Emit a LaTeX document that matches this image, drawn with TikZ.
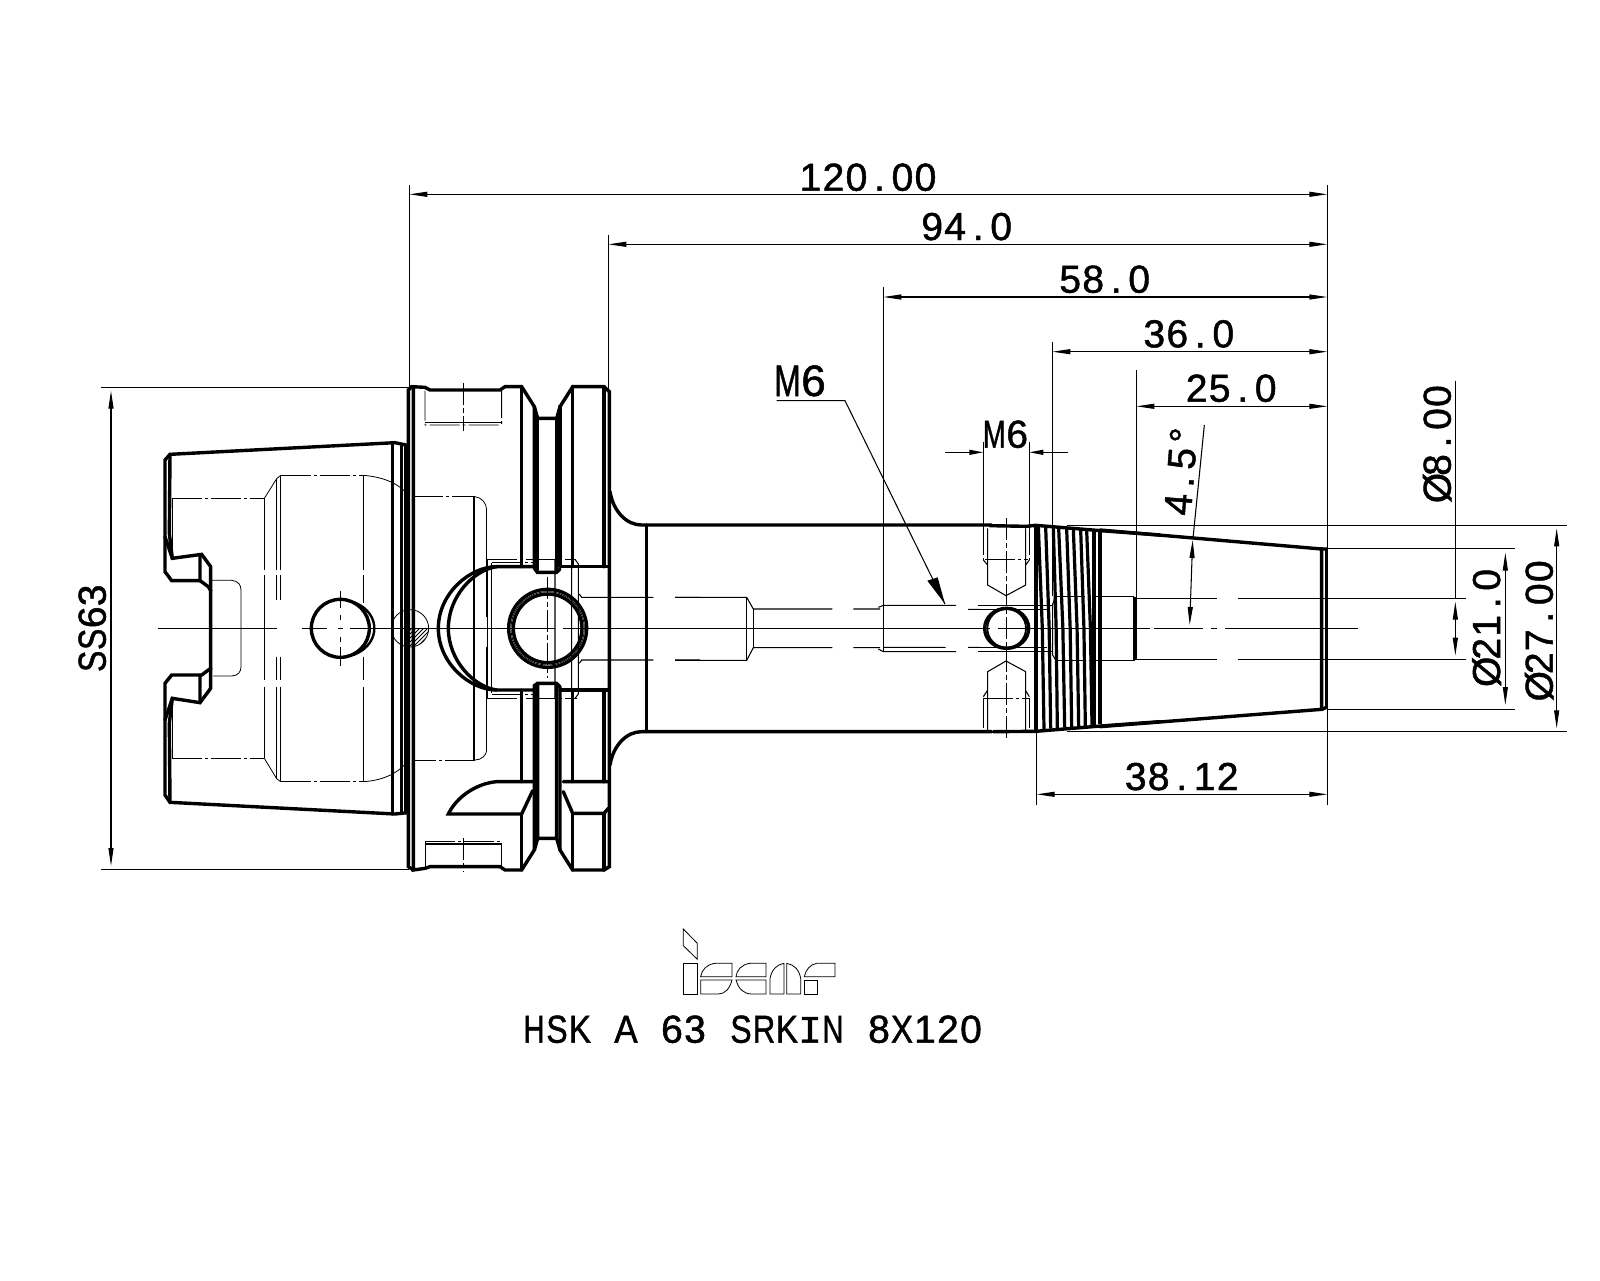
\documentclass[tikz,border=0pt]{standalone}
\usepackage{fontspec}
\setmainfont{Liberation Sans}[FakeBold=1.2]
\newfontfamily\lmn{Liberation Mono}[FakeBold=1.2]
\usetikzlibrary{arrows.meta}
\makeatletter
\newcommand\cells[2][23pt]{\@tfor\mycell:=#2\do{\makebox[#1][c]{\mycell}}}
\makeatother
\newcommand\sx[2]{\scalebox{#1}[1]{#2}}
\tikzset{
  thk/.style={line width=3.4pt,line join=miter,line cap=round},
  thn/.style={line width=1.05pt},
  fin/.style={line width=0.8pt},
  hid/.style={line width=0.9pt,dash pattern=on 30pt off 3pt on 3pt off 3pt},
  ctr/.style={line width=0.9pt,dash pattern=on 22pt off 3pt on 5pt off 3pt},
  dim/.style={line width=1.05pt,{Triangle[length=18pt,width=5pt]}-{Triangle[length=18pt,width=5pt]}},
  lab/.style={font=\fontsize{39pt}{39pt}\selectfont,inner sep=0pt,anchor=base},
  zsc/.style={x=.33333pt,y=-.33333pt}
}
\begin{document}
\begin{tikzpicture}[x=1pt,y=-1pt]
\useasboundingbox (0,0) rectangle (1600,1280);
\fill[white] (0,0) rectangle (1600,1280);

%% ---------- left cone (zoom 1 coordinates)
\begin{scope}[shift={(140,370)},zsc]
 \draw[thk] (803,226)--(765,218)--(90,253)--(75,270)--(75,605)--(95,632)--(180,632)--(205,650)--(212,662)--(212,895)--(185,915)--(95,915)--(75,940)--(75,1275)--(90,1297)--(765,1332)--(803,1328);
 \draw[thk] (90,253)--(88,490)--(97,565)--(185,553)--(212,590)--(212,662);
 \draw[thk] (90,1297)--(88,1060)--(97,985)--(180,998)--(212,955)--(212,895);
 \draw[thk] (180,555)--(180,632) (180,915)--(180,998) (75,500)--(97,565) (75,1050)--(97,985);
 \draw[thk] (757,218)--(757,1332) (785,228)--(785,1328) (797,228)--(797,1328);
 % hidden bore
 \draw[hid] (97,385)--(373,385) (97,1165)--(373,1165);
 \draw[thn] (97,385)--(97,565) (97,985)--(97,1165);
 \draw[fin] (373,385)--(410,326)--(422,316) (373,1165)--(410,1226)--(422,1235);
 \draw[hid] (422,316)--(670,316) (422,1235)--(670,1235);
 \draw[fin] (670,316) .. controls (720,320) and (770,335) .. (802,372);
 \draw[fin] (670,1235) .. controls (720,1232) and (770,1215) .. (802,1175);
 \draw[thn] (373,385)--(373,600) (373,950)--(373,1165) (410,326)--(410,600) (410,950)--(410,1226) (422,316)--(422,600) (422,950)--(422,1235) (670,316)--(670,600) (670,950)--(670,1235);
 \draw[thn] (373,615)--(373,930) (410,615)--(410,690) (410,860)--(410,930) (422,615)--(422,690) (422,860)--(422,930) (670,615)--(670,700) (670,860)--(670,930);
 \draw[fin] (215,631)--(275,631) .. controls (295,633) and (303,645) .. (303,660)--(303,890) .. controls (303,905) and (295,917) .. (275,918)--(220,918);
 % cross-hole
 \draw[line width=3.4pt] (601,775) circle[radius=87];
 \draw[line width=2.4pt] (640,696) .. controls (690,715) and (703,750) .. (703,775) .. controls (703,800) and (690,835) .. (640,855);
 \draw[thn] (55,775)--(412,775) (487,775)--(560,775) (595,775)--(610,775) (630,775)--(808,775);
 \draw[thn] (602,663)--(602,715) (602,735)--(602,750) (602,800)--(602,815) (602,830)--(602,888);
 % hatched pin
 \begin{scope}
  \clip (810,775) circle[radius=55];
  \clip (755,720) rectangle (810,775) (810,775) rectangle (870,835);
  \foreach \k in {0,12,...,240} \draw[fin] (750+\k,840)--(750+\k+120,720);
 \end{scope}
 \draw[fin] (810,775) circle[radius=56];
\end{scope}

%% ---------- flange (zoom 2 coordinates)
\begin{scope}[shift={(400,370)},zsc]
 \draw[thk] (40,1500)--(25,1490)--(25,60)--(35,50)--(75,52)--(90,60)--(300,60)--(315,50)--(365,50)--(403,110)--(403,595);
 \draw[thk] (40,50)--(40,1500)--(75,1495)--(90,1490)--(300,1490)--(315,1500)--(365,1500)--(403,1440)--(403,945);
 \draw[thk] (365,50)--(365,590) (365,960)--(365,1235) (365,1332)--(365,1500);
 \draw[thk] (403,110)--(413,145)--(470,145)--(480,110)--(518,50)--(612,50)--(628,65)--(628,1490)--(612,1500)--(518,1500)--(480,1440)--(480,950);
 \draw[thk] (413,145)--(413,600) (470,145)--(470,600) (480,110)--(480,590);
 \draw[thk] (518,50)--(518,590) (612,50)--(612,590) (518,960)--(518,1235) (612,960)--(612,1235) (518,1330)--(518,1500) (612,1330)--(612,1500);
 \draw[thk] (403,595)--(412,607)--(470,607)--(480,597);
 \draw[thk] (403,950)--(412,940)--(470,940)--(480,950);
 \draw[thk] (413,945)--(413,1405)--(470,1405)--(470,945) (403,1440)--(413,1405) (480,1440)--(470,1405);
 % slot
 \draw[thk] (400,590)--(290,590) .. controls (210,590) and (115,670) .. (115,775) .. controls (115,880) and (210,960) .. (290,960)--(400,960);
 \draw[thk] (290,590) .. controls (220,600) and (145,680) .. (145,775) .. controls (145,870) and (220,950) .. (290,960);
 \draw[thk] (480,590)--(625,590) (480,960)--(625,960);
 \draw[thk] (400,1235)--(290,1235) .. controls (230,1240) and (170,1280) .. (145,1332)--(365,1332)--(398,1262);
 \draw[thk] (490,1235)--(625,1235) (490,1265)--(518,1330)--(612,1330)--(625,1315);
 % screw
 \draw[line width=3.4pt] (443,775) circle[radius=117];
 \draw[line width=3.4pt] (443,775) circle[radius=103];
 \draw[fin] (443,775) circle[radius=110];
 % fillet and shank
 \draw[thk] (630,365) .. controls (640,425) and (680,465) .. (725,465)--(1775,465);
 \draw[thk] (630,1185) .. controls (640,1125) and (680,1085) .. (725,1085)--(1775,1085);
 \draw[thk] (740,465)--(740,1085);
 % hidden screw holes top/bottom
 \draw[hid] (75,62)--(75,165)--(300,165)--(305,160)--(305,60);
 \draw[thn] (75,158)--(305,158);
 \draw[ctr] (190,40)--(190,182);
 \draw[hid] (75,1415)--(305,1415)--(305,1490) (75,1415)--(75,1490);
 \draw[thn] (75,1422)--(305,1422);
 \draw[ctr] (190,1405)--(190,1505);
 % hidden bore
 \draw[hid] (40,380)--(225,380);
 \draw[fin] (225,380) .. controls (245,382) and (260,400) .. (260,420);
 \draw[thn] (260,420)--(260,740) (260,830)--(260,1140);
 \draw[fin] (260,1140) .. controls (260,1155) and (245,1170) .. (225,1170);
 \draw[hid] (225,1170)--(40,1170);
 \draw[thn] (222,380)--(222,1170) (275,578)--(275,970);
 \draw[hid] (262,568)--(525,568) (262,985)--(530,985) (275,578)--(400,578) (275,972)--(400,972);
 \draw[thn] (525,568)--(535,582)--(535,972)--(525,985) (515,568)--(515,985) (465,568)--(465,985);
 \draw[fin] (262,568)--(262,985);
 \draw[ctr] (443,620)--(443,925);
 \draw[thn] (538,672)--(545,682)--(760,682) (825,682)--(900,682) (538,880)--(545,870)--(760,870) (825,870)--(900,870);
\end{scope}

%% ---------- shank interior (zoom 6 coordinates)
\begin{scope}[shift={(640,500)},zsc]
 \draw[thn] (105,292)--(320,292)--(340,327)--(577,327) (640,327)--(720,327);
 \draw[thn] (105,481)--(320,481)--(340,443)--(577,443) (640,443)--(720,443);
 \draw[thn] (320,292)--(320,481) (340,327)--(340,443);
 \draw[thn] (715,322)--(730,316)--(948,316) (985,328)--(1020,328) (715,447)--(730,455)--(948,455) (730,442)--(917,442) (985,442)--(1020,442);
 \fill (915,312)--(862,242)--(893,232)--cycle;
\end{scope}

%% ---------- M6 cross hole & thread (zoom 3 coordinates)
\begin{scope}[shift={(860,400)},zsc]
 \draw[thk] (390,377)--(500,379)--(527,376)--(722,392)--(900,405);
 \draw[thk] (400,995)--(527,994)--(722,978)--(900,965);
 \draw[thn] (370,125)--(370,375) (508,125)--(508,375);
 \draw[hid] (370,375)--(370,480) (508,375)--(508,480) (375,478)--(503,478);
 \draw[thn] (370,480)--(383,495) (508,480)--(497,495) (383,385)--(383,555)--(438,587)--(497,555)--(497,385);
 \draw[thn] (383,990)--(383,815)--(438,783)--(497,815)--(497,990);
 \draw[hid] (370,895)--(370,990) (508,895)--(508,990) (370,895)--(508,895);
 \draw[thn] (370,890)--(382,872) (508,890)--(497,872);
 \draw[ctr] (438,355)--(438,1020);
 \draw[line width=3.4pt] (440,685) ellipse[x radius=66,y radius=60];
 \draw[line width=1.8pt] (440,685) circle[radius=58];
 \draw[thn] (355,616)--(575,616) (355,754)--(575,754) (325,628)--(560,628) (325,742)--(560,742);
 \draw[thn] (578,615)--(585,590) (578,610)--(578,765)--(587,780);
 \draw[hid] (585,590)--(822,590) (587,780)--(822,780);
 \draw[fin] (822,590)--(822,780) (828,590)--(828,780);
 \draw[thn] (828,595)--(900,595) (828,778)--(900,778);
\end{scope}

%% ---------- thread lines (zoom 12 coordinates)
\begin{scope}[shift={(1020,515)},zsc]
 \draw[line width=3.4pt] (48,31)--(48,648);
 \foreach \a/\b in {55/72,77/92,100/112,116/134,140/155,160/176,182/196,200/216}
   \draw[line width=3.2pt] (\a,{34+(\a-48)*.08}) -- ({\a+.7*(\b-\a)},340) -- (\b,{644-(\b-48)*.07});
 \draw[line width=3.4pt] (222,44)--(222,630) (240,46)--(240,628);
\end{scope}

%% ---------- taper end (zoom 4 coordinates)
\begin{scope}[shift={(1100,370)},zsc]
 \draw[thk] (0,480)--(665,537)--(665,1018)--(0,1070);
 \draw[thk] (680,537)--(680,1010);
 \draw[thk] (665,537)--(680,537) (665,1018)--(680,1012);
 \draw[fin] (100,680)--(100,872) (105,680)--(105,870);
 \draw[thn] (0,680)--(100,680) (0,872)--(100,872);
 \draw[thn] (105,685)--(350,685) (415,685)--(1097,685) (105,868)--(350,868) (415,868)--(1097,868);
 \draw[thn] (-100,466)--(1400,466) (-100,1084)--(1400,1084);
 \draw[thn] (682,535)--(1245,535) (682,1018)--(1245,1018);
 \draw[thn] (110,0)--(110,680);
 \draw[thn] (313,165)--(279,505);
 \draw[dim] (278,510)--(269,765);
 \draw[thn] (1066,32)--(1066,685);
 \draw[dim] (1066,695)--(1066,857);
 \draw[dim] (1216,548)--(1216,1005);
 \draw[dim] (1370,475)--(1370,1075);
\end{scope}

%% ---------- centre lines
\draw[thn] (302.3,628.3)--(326.7,628.3);
\draw[thn] (350,628.3)--(555,628.3) (563,628.3)--(990,628.3) (998,628.3)--(1150,628.3) (1154,628.3)--(1203,628.3) (1211,628.3)--(1217,628.3) (1225,628.3)--(1358.3,628.3);

%% ---------- extension & dimension lines
\draw[thn] (409.3,185)--(409.3,389) (608.3,235)--(608.3,389) (883.3,286.7)--(883.3,651) (1052.3,341.7)--(1052.3,596) (1327.3,185)--(1327.3,805) (1036.7,731)--(1036.7,805);
\draw[thn] (100.7,387.3)--(409.3,387.3) (100.7,869.3)--(409.3,869.3);
\draw[dim] (111,390.7)--(111,866);
\draw[dim] (409.3,194.3)--(1327.3,194.3);
\draw[dim] (608.3,244.3)--(1327.3,244.3);
\draw[dim] (883.3,297)--(1327.3,297);
\draw[dim] (1052.3,351.7)--(1327.3,351.7);
\draw[dim] (1136.3,406.3)--(1327.3,406.3);
\draw[dim] (1036.7,794.3)--(1327.3,794.3);
% small M6
\draw[thn,-{Triangle[length=14pt,width=5pt]}] (945,452.3)--(983.3,452.3);
\draw[thn,-{Triangle[length=14pt,width=5pt]}] (1067.7,452.3)--(1029.3,452.3);
% M6 leader
\draw[thn] (776.7,400.7)--(845,400.7)--(945,604);

%% ---------- labels
\node[lab] (t120) at (868,190.7) {\cells{120.00}};
\node[lab] (t94) at (966.7,240) {\cells{94.0}};
\node[lab] (t58) at (1104.7,292.7) {\cells{58.0}};
\node[lab] (t36) at (1188.8,347.3) {\cells{36.0}};
\node[lab] (t25) at (1231.2,401.7) {\cells{25.0}};
\node[lab] (t38) at (1181.7,790) {\cells{38.12}};
\node[lab,font=\fontsize{44pt}{44pt}\selectfont] (tm6a) at (800.5,396) {\cells[26pt]{{\sx{.72}{M}}6}};
\node[lab] (tm6b) at (1005.7,447.7) {\cells{{\sx{.7}{M}}6}};
\node[lab,rotate=90] (tss) at (105.7,628.3) {\cells[22pt]{{\sx{.82}{S}}{\sx{.82}{S}}63}};
\node[lab,rotate=90] (td8) at (1450.7,442) {\cells{Ø8.00}};
\node[lab,rotate=90] (td21) at (1500,625.8) {\cells{Ø21.0}};
\node[lab,rotate=90] (td27) at (1552.7,628.7) {\cells{Ø27.00}};
\node[lab,rotate=85.5] (tang) at (1194.3,471) {\cells{4.5°}};
\node[lab] (ttitle) at (752.5,1042.7) {\cells{{\sx{.75}{H}}{\sx{.82}{S}}{\sx{.85}{K}}{\ }{\sx{.9}{A}}{\ }63{\ }{\sx{.82}{S}}{\sx{.8}{R}}{\sx{.85}{K}}{\lmn I}{\sx{.75}{N}}{\ }8{\sx{.85}{X}}120}};

%% ---------- logo (zoom 7 coordinates)
\begin{scope}[shift={(670,925)},zsc,fin]
 \draw (40,12)--(82,55)--(82,103)--(40,62)--cycle;
 \draw (40,115) rectangle (82,207);
 \draw (186,115)--(135,115) .. controls (110,118) and (95,135) .. (92,155)--(186,155)--cycle;
 \draw (92,165)--(186,165) .. controls (180,190) and (165,207) .. (145,207)--(92,207)--cycle;
 \draw (288,115)--(240,115) .. controls (215,118) and (200,135) .. (198,155)--(288,155)--cycle;
 \draw (198,165) .. controls (205,190) and (220,207) .. (245,207)--(288,207)--(288,165)--cycle;
 \draw (300,207)--(300,160) .. controls (305,135) and (320,118) .. (342,115)--(342,207)--cycle;
 \draw (350,115) .. controls (372,118) and (388,135) .. (392,160)--(392,207)--(350,207)--cycle;
 \draw (495,115)--(440,115) .. controls (420,118) and (407,135) .. (403,155)--(495,155)--cycle;
 \draw (403,165)--(443,165)--(443,207)--(403,207)--cycle;
\end{scope}
\end{tikzpicture}
\end{document}
